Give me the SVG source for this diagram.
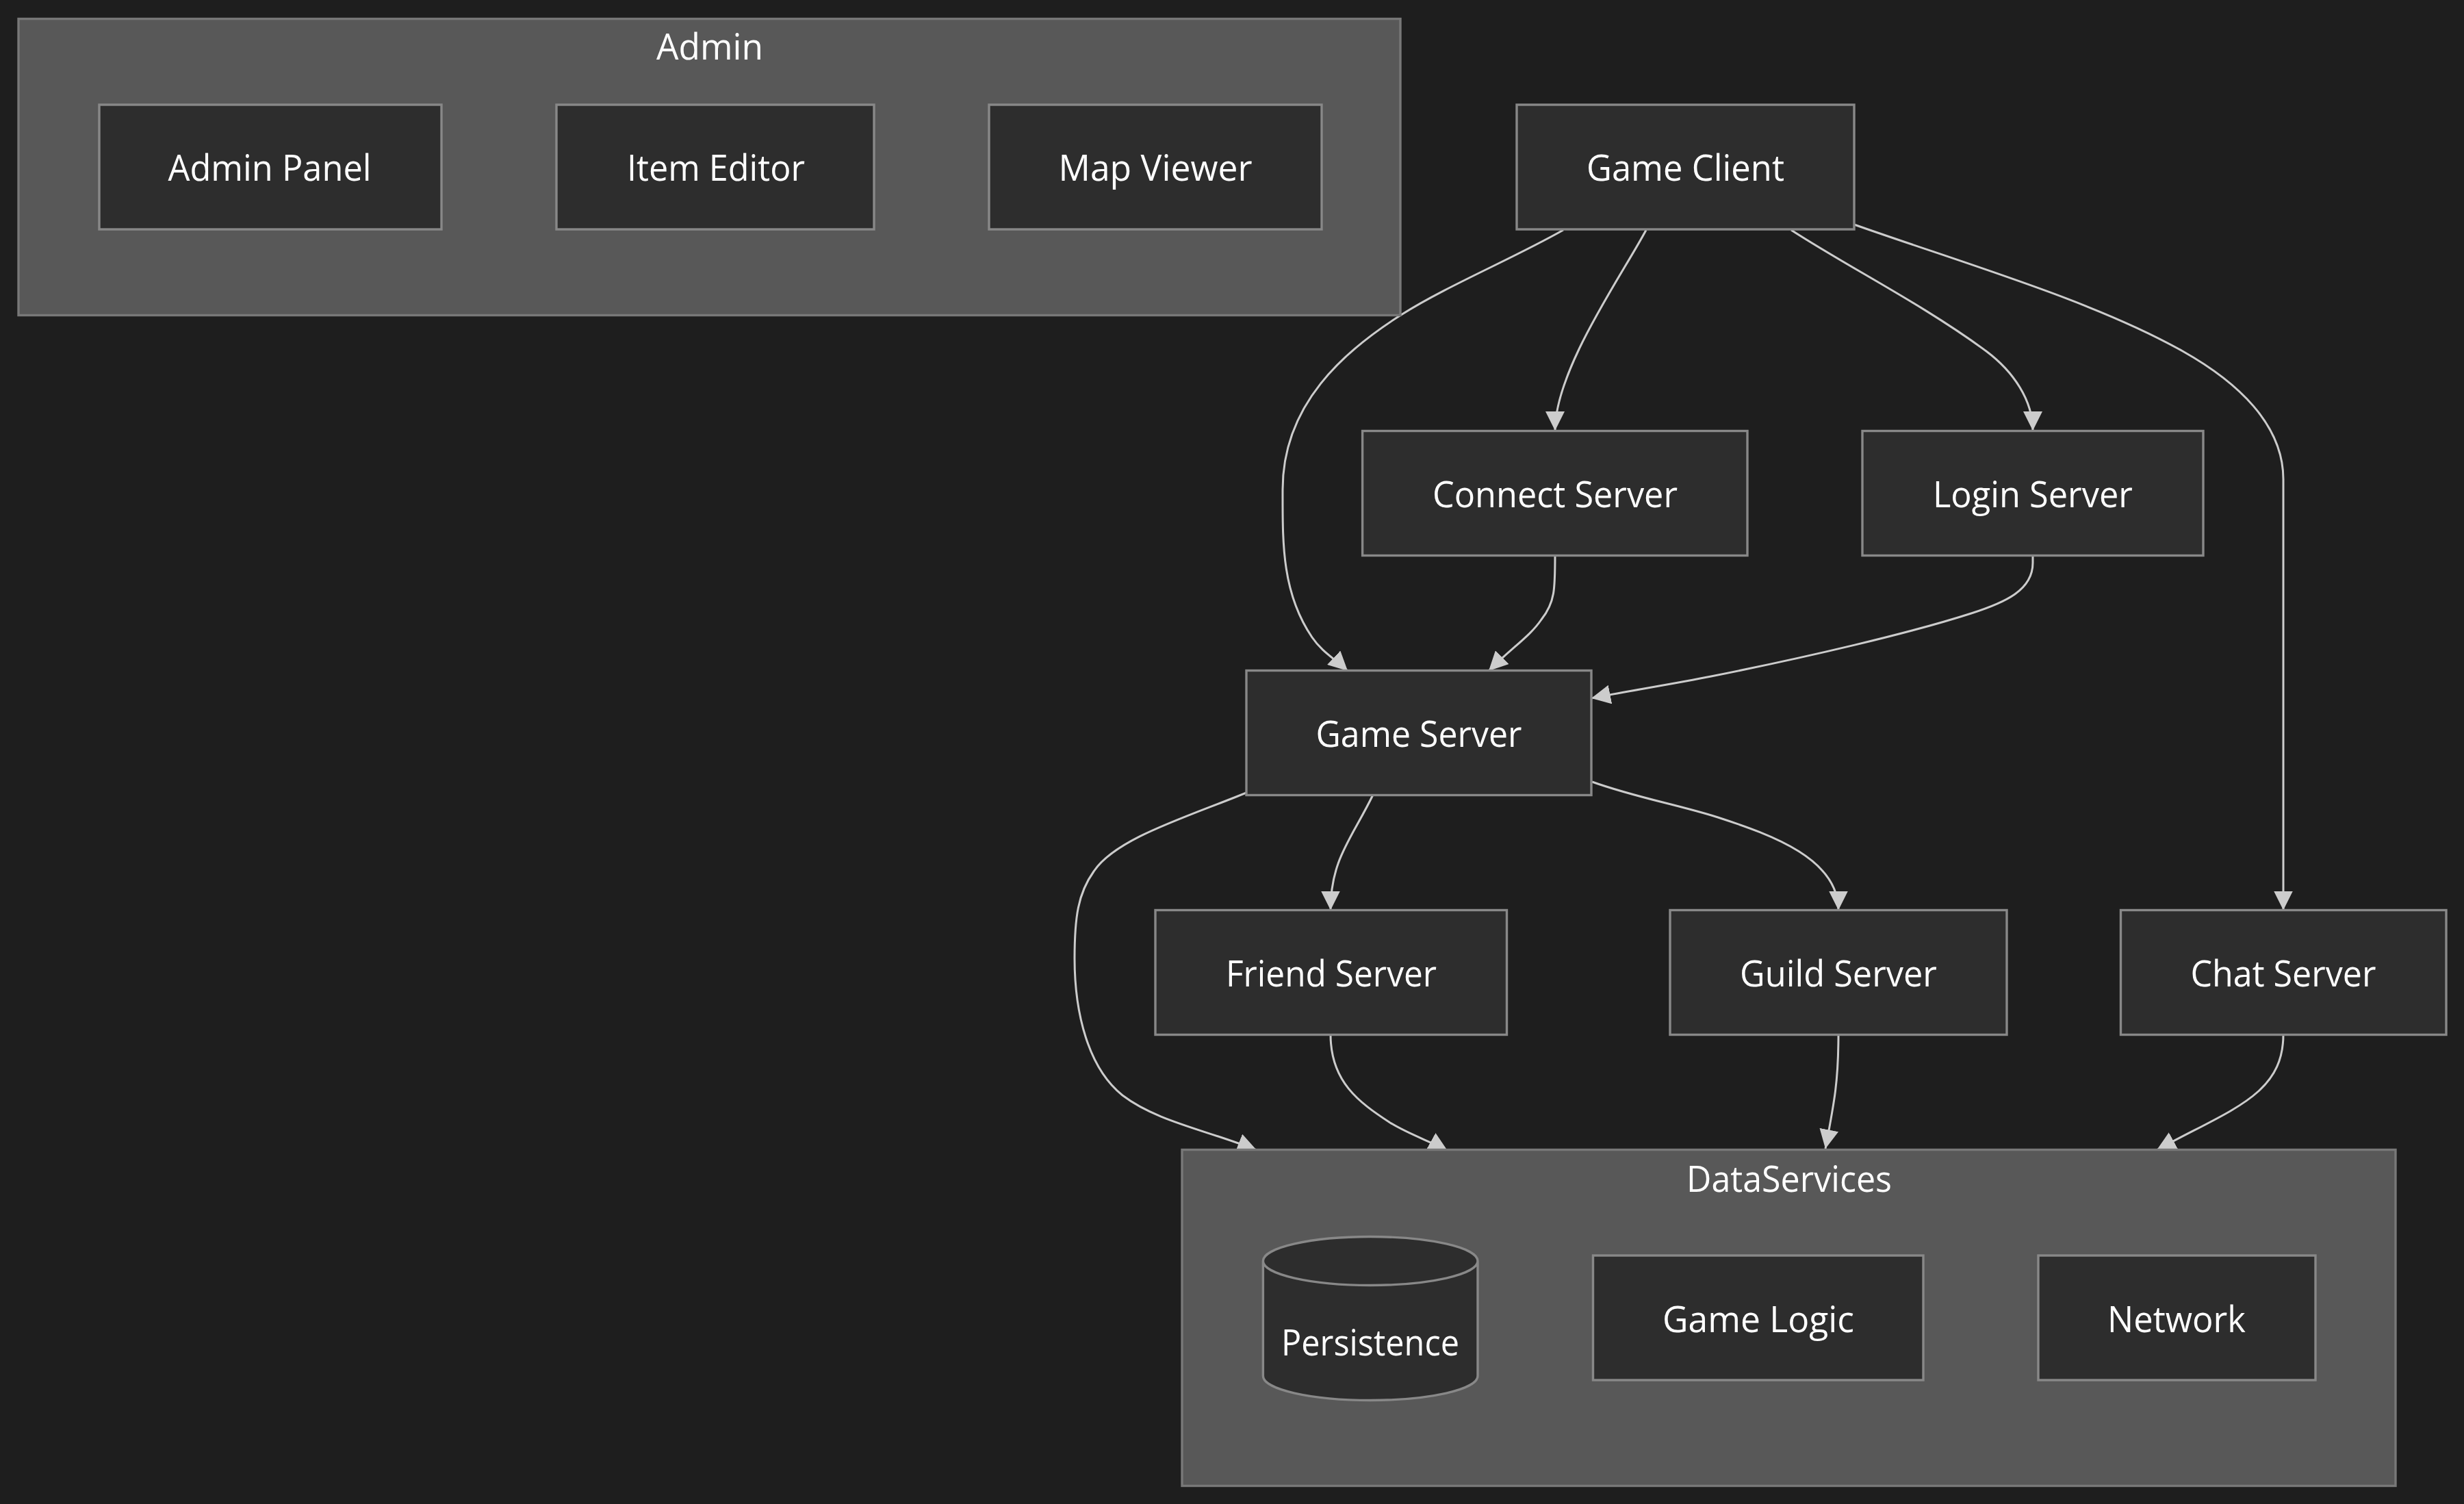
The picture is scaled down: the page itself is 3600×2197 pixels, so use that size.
<svg xmlns="http://www.w3.org/2000/svg" width="3600" height="2197" viewBox="0 0 3600 2197">
<style>
.cluster{fill:#585858;stroke:#787878;stroke-width:3.4}
.node{fill:#2d2d2d;stroke:#888;stroke-width:3.4}
.lbl{fill:#fff;font-family:"Open Sans","Noto Sans","Liberation Sans",sans-serif;font-size:53px;text-anchor:middle}
.edge{fill:none;stroke:#ccc;stroke-width:3}
</style>
<defs>
<marker id="arrow" markerUnits="userSpaceOnUse" markerWidth="28" markerHeight="28" viewBox="0 0 10 10" refX="10" refY="5" orient="auto"><path d="M0,0L10,5L0,10z" fill="#ccc"/></marker>
</defs>
<rect width="3600" height="2197" fill="#1e1e1e"/>
<g id="connectors">
<path class="edge" marker-end="url(#arrow)" d="M2284,336C2210,378 2115,417 2047,460C1965,512 1874,590 1874,715C1874,790 1872,865 1917,931C1932,953 1950,962 1969,980"/>
<path class="edge" marker-end="url(#arrow)" d="M2405,336C2370,402 2272,540 2272,629"/>
<path class="edge" marker-end="url(#arrow)" d="M2617,336C2700,390 2810,445 2902,513C2942,543 2970,585 2970,629"/>
<path class="edge" marker-end="url(#arrow)" d="M2709,328C2870,385 3060,440 3189,513C3269,558 3336,620 3336,700L3336,1329.5"/>
<path class="edge" marker-end="url(#arrow)" d="M2272,811C2272,860 2272,880 2252,905C2235,930 2210,945 2175,980"/>
<path class="edge" marker-end="url(#arrow)" d="M2970,811L2970,822C2970,862 2930,880 2880,896C2790,925 2640,960 2500,988C2440,1000 2380,1009 2325,1020"/>
<path class="edge" marker-end="url(#arrow)" d="M1821,1158C1730,1195 1630,1225 1598,1273C1575,1305 1570,1340 1570,1400C1570,1480 1590,1560 1640,1600C1690,1638 1760,1650 1836,1680"/>
<path class="edge" marker-end="url(#arrow)" d="M2006,1161C1975,1225 1944,1255 1944,1329.5"/>
<path class="edge" marker-end="url(#arrow)" d="M2326,1142C2390,1165 2450,1175 2510,1194C2590,1220 2686,1255 2686,1329.5"/>
<path class="edge" marker-end="url(#arrow)" d="M1944,1511C1944,1580 1985,1610 2031,1640C2060,1658 2090,1667 2115,1681"/>
<path class="edge" marker-end="url(#arrow)" d="M2686,1511C2686,1580 2680,1610 2667,1678"/>
<path class="edge" marker-end="url(#arrow)" d="M3336,1511C3336,1600 3260,1620 3151,1680"/>
</g>
<g id="Admin"><rect class="cluster" x="27" y="27.5" width="2019" height="433"/><text class="lbl" x="1037" y="87" textLength="156" lengthAdjust="spacingAndGlyphs">Admin</text></g>
<g id="DataServices"><rect class="cluster" x="1727" y="1679.5" width="1773" height="491"/><text class="lbl" x="2614" y="1741" textLength="300" lengthAdjust="spacingAndGlyphs">DataServices</text></g>
<g id="AdminPanel"><rect class="node" x="145" y="153" width="500" height="182"/><text class="lbl" x="394" y="264" textLength="297" lengthAdjust="spacingAndGlyphs">Admin Panel</text></g>
<g id="ItemEditor"><rect class="node" x="813" y="153" width="464" height="182"/><text class="lbl" x="1046" y="264" textLength="260" lengthAdjust="spacingAndGlyphs">Item Editor</text></g>
<g id="MapViewer"><rect class="node" x="1445" y="153" width="486" height="182"/><text class="lbl" x="1688" y="264" textLength="283" lengthAdjust="spacingAndGlyphs">Map Viewer</text></g>
<g id="GameClient"><rect class="node" x="2216" y="153" width="493" height="182"/><text class="lbl" x="2462.5" y="264" textLength="289" lengthAdjust="spacingAndGlyphs">Game Client</text></g>
<g id="ConnectServer"><rect class="node" x="1990.6" y="629.5" width="562.4" height="182"/><text class="lbl" x="2272" y="741" textLength="358" lengthAdjust="spacingAndGlyphs">Connect Server</text></g>
<g id="LoginServer"><rect class="node" x="2721" y="629.5" width="498" height="182"/><text class="lbl" x="2970" y="741" textLength="292" lengthAdjust="spacingAndGlyphs">Login Server</text></g>
<g id="GameServer"><rect class="node" x="1821" y="979.5" width="504" height="182"/><text class="lbl" x="2073" y="1091" textLength="301" lengthAdjust="spacingAndGlyphs">Game Server</text></g>
<g id="FriendServer"><rect class="node" x="1688" y="1329.5" width="513.5" height="182"/><text class="lbl" x="1945" y="1441" textLength="308" lengthAdjust="spacingAndGlyphs">Friend Server</text></g>
<g id="GuildServer"><rect class="node" x="2440" y="1329.5" width="492" height="182"/><text class="lbl" x="2686" y="1441" textLength="288" lengthAdjust="spacingAndGlyphs">Guild Server</text></g>
<g id="ChatServer"><rect class="node" x="3098.5" y="1329.5" width="475.5" height="182"/><text class="lbl" x="3336" y="1441" textLength="271" lengthAdjust="spacingAndGlyphs">Chat Server</text></g>
<g id="Persistence"><path class="node" d="M1845.4,1842a156.8,35.5 0 0 0 313.6,0a156.8,35.5 0 0 0 -313.6,0l0,168a156.8,35.5 0 0 0 313.6,0l0,-168"/><text class="lbl" x="2002" y="1980" textLength="260" lengthAdjust="spacingAndGlyphs">Persistence</text></g>
<g id="GameLogic"><rect class="node" x="2327.5" y="1834" width="482.5" height="182"/><text class="lbl" x="2569" y="1946" textLength="280" lengthAdjust="spacingAndGlyphs">Game Logic</text></g>
<g id="Network"><rect class="node" x="2978" y="1834" width="405" height="182"/><text class="lbl" x="3180" y="1946" textLength="202" lengthAdjust="spacingAndGlyphs">Network</text></g>
</svg>
